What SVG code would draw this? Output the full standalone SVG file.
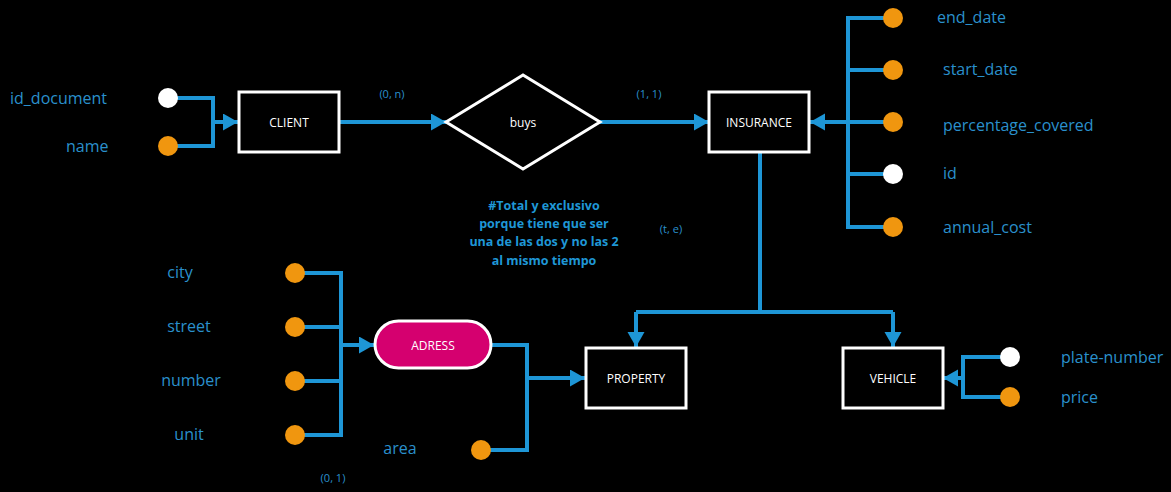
<svg xmlns="http://www.w3.org/2000/svg" width="1171" height="492" viewBox="0 0 1171 492">
<style>
.bg{fill:#000}
.ent{fill:#000;stroke:#fff;stroke-width:3}
.etxt{font-family:"Open Sans","Noto Sans",sans-serif;font-size:12px;fill:#fff;text-anchor:middle;dominant-baseline:central}
.att{font-family:"Open Sans","Noto Sans",sans-serif;font-size:16px;fill:#2a90cc;dominant-baseline:central}
.card{font-family:"Open Sans","Noto Sans",sans-serif;font-size:11px;fill:#2a90cc;text-anchor:middle;dominant-baseline:central}
.note{font-family:"Open Sans","Noto Sans",sans-serif;font-size:12.5px;font-weight:bold;fill:#1f97d6;text-anchor:middle;dominant-baseline:central}
.ln{fill:none;stroke:#1e96d6;stroke-width:4}
.or{fill:#f0960f}
.wh{fill:#fff}
</style>
<defs>
<marker id="ah" markerUnits="userSpaceOnUse" markerWidth="16" markerHeight="18" refX="15" refY="8.5" orient="auto">
<path d="M0,0 L15,8.5 L0,17 Z" fill="#1e96d6"/>
</marker>
</defs>
<rect class="bg" x="0" y="0" width="1171" height="492"/>
<g id="connectors">
<path class="ln" d="M168,98 H213 V146 H168"/>
<path class="ln" d="M213,122 H238" marker-end="url(#ah)"/>
<path class="ln" d="M339,122 H446" marker-end="url(#ah)"/>
<path class="ln" d="M600,122 H709" marker-end="url(#ah)"/>
<path class="ln" d="M893,18 H848 V227 H893"/>
<path class="ln" d="M848,70 H893 M848,122 H893 M848,174 H893"/>
<path class="ln" d="M848,122 H810" marker-end="url(#ah)"/>
<path class="ln" d="M760,152 V312 M636,312 H893"/>
<path class="ln" d="M636,312 V347" marker-end="url(#ah)"/>
<path class="ln" d="M893,312 V347" marker-end="url(#ah)"/>
<path class="ln" d="M1010,357 H963 V397 H1010"/>
<path class="ln" d="M963,378 H943" marker-end="url(#ah)"/>
<path class="ln" d="M295,273 H341 V435 H295 M341,327 H295 M341,381 H295"/>
<path class="ln" d="M341,345 H374" marker-end="url(#ah)"/>
<path class="ln" d="M492,345 H527 V450 H481"/>
<path class="ln" d="M527,378 H585" marker-end="url(#ah)"/>
</g>
<g id="client"><rect class="ent" x="239" y="92" width="100" height="60"/><text class="etxt" x="289" y="122">CLIENT</text></g>
<g id="buys"><path class="ent" d="M446,122 L523,75 L600,122 L523,169 Z"/><text class="etxt" x="523" y="122">buys</text></g>
<g id="insurance"><rect class="ent" x="709" y="92" width="100" height="60"/><text class="etxt" x="759" y="122">INSURANCE</text></g>
<g id="property"><rect class="ent" x="586" y="348" width="100" height="60"/><text class="etxt" x="636" y="378">PROPERTY</text></g>
<g id="vehicle"><rect class="ent" x="843" y="348" width="100" height="60"/><text class="etxt" x="893" y="378">VEHICLE</text></g>
<g id="adress"><rect x="375" y="321" width="116" height="47" rx="23.5" fill="#d5006f" stroke="#fff" stroke-width="3"/><text class="etxt" x="433" y="345">ADRESS</text></g>
<g id="attr-id_document"><circle class="wh" cx="168" cy="98" r="10"/><text class="att" x="10" y="98">id_document</text></g>
<g id="attr-name"><circle class="or" cx="168" cy="146" r="10"/><text class="att" x="66" y="146">name</text></g>
<g id="attr-end_date"><circle class="or" cx="893" cy="18" r="10"/><text class="att" x="937" y="17">end_date</text></g>
<g id="attr-start_date"><circle class="or" cx="893" cy="70" r="10"/><text class="att" x="943" y="69">start_date</text></g>
<g id="attr-percentage_covered"><circle class="or" cx="893" cy="122" r="10"/><text class="att" x="943" y="125">percentage_covered</text></g>
<g id="attr-id"><circle class="wh" cx="893" cy="174" r="10"/><text class="att" x="943" y="173">id</text></g>
<g id="attr-annual_cost"><circle class="or" cx="893" cy="227" r="10"/><text class="att" x="943" y="227">annual_cost</text></g>
<g id="attr-plate-number"><circle class="wh" cx="1010" cy="357" r="10"/><text class="att" x="1061" y="357">plate-number</text></g>
<g id="attr-price"><circle class="or" cx="1010" cy="397" r="10"/><text class="att" x="1061" y="397">price</text></g>
<g id="attr-city"><circle class="or" cx="295" cy="273" r="10"/><text class="att" x="180" y="272" text-anchor="middle">city</text></g>
<g id="attr-street"><circle class="or" cx="295" cy="327" r="10"/><text class="att" x="189" y="326" text-anchor="middle">street</text></g>
<g id="attr-number"><circle class="or" cx="295" cy="381" r="10"/><text class="att" x="191" y="380" text-anchor="middle">number</text></g>
<g id="attr-unit"><circle class="or" cx="295" cy="435" r="10"/><text class="att" x="189" y="434" text-anchor="middle">unit</text></g>
<g id="attr-area"><circle class="or" cx="481" cy="450" r="10"/><text class="att" x="400" y="448" text-anchor="middle">area</text></g>
<g id="labels">
<text class="card" x="392" y="93">(0, n)</text>
<text class="card" x="649" y="93">(1, 1)</text>
<text class="card" x="671" y="228">(t, e)</text>
<text class="card" x="333" y="477">(0, 1)</text>
<text class="note" x="544" y="205">#Total y exclusivo</text>
<text class="note" x="544" y="223">porque tiene que ser</text>
<text class="note" x="544" y="241">una de las dos y no las 2</text>
<text class="note" x="544" y="260">al mismo tiempo</text>
</g>
</svg>
